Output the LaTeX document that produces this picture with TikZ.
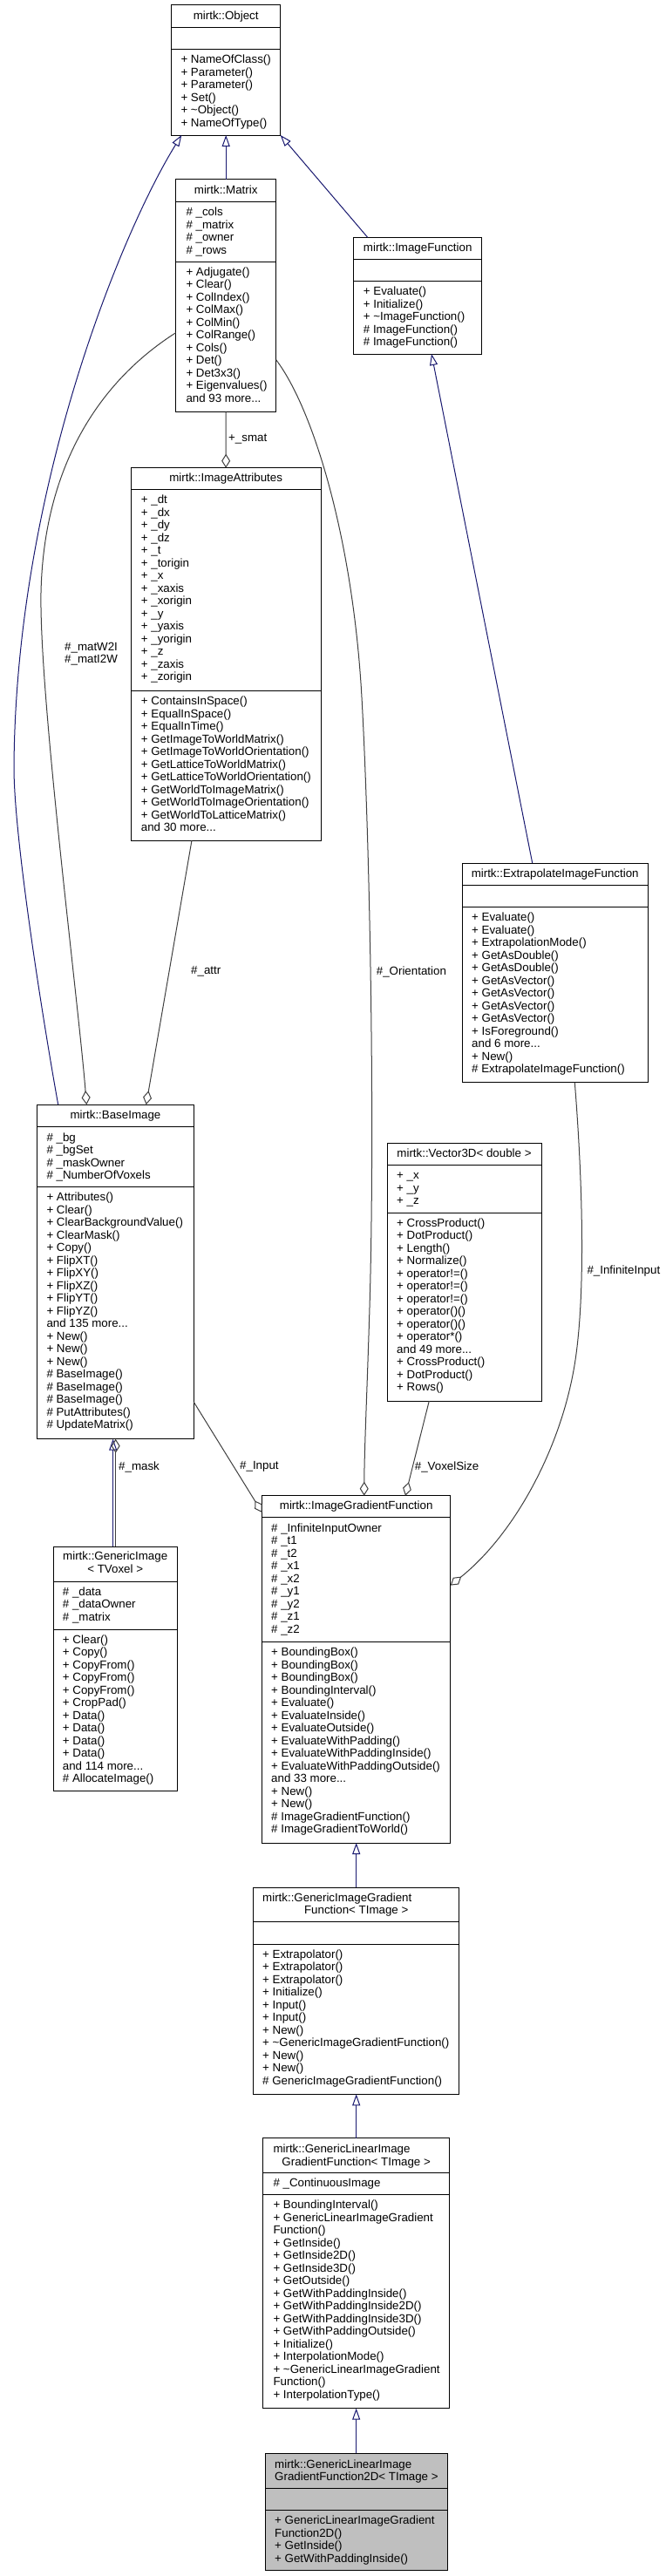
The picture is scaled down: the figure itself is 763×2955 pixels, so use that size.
\documentclass[tikz,border=0pt]{standalone}
\usepackage{fontspec}
\setmainfont{Liberation Sans}
\usetikzlibrary{arrows.meta,calc}
\definecolor{inhblue}{HTML}{191970}
\definecolor{assgray}{HTML}{404040}
\definecolor{selgray}{HTML}{BFBFBF}
\newcommand\fl{\rule{0pt}{10.5pt}}
\newcommand\classbox[6][white]{%
  \node[box, fill=#1, anchor=north west, minimum width={#5-#3}, minimum height={#6-#4}] (#2) at (#3,#4) {};}
\newcommand\csep[3]{\draw[sepline] (#1,#3) -- (#2,#3);}
\tikzset{
  box/.style={rectangle, draw=black, line width=1pt, inner sep=0pt, outer sep=0pt},
  sepline/.style={draw=black, line width=1pt},
  ttl/.style={inner sep=0pt, font=\fontsize{13.33}{14.5}\selectfont},
  mem/.style={inner sep=0pt, align=left, anchor=north west, font=\fontsize{13.33}{14.5}\selectfont},
  lbl/.style={inner sep=0pt, anchor=west, font=\fontsize{13.33}{14.5}\selectfont},
  inh/.style={draw=inhblue, line width=1pt, -{Triangle[open, length=13pt, width=9pt]}},
  agg/.style={draw=assgray, line width=1pt, -{Diamond[open, length=16pt, width=10pt]}},
}
\begin{document}
\begin{tikzpicture}[x=1pt, y=-1pt]
\fill[white] (0,0) rectangle (763,2955);
\useasboundingbox (0,0) rectangle (763,2955);

% ---------- mirtk::Object
\classbox{obj}{196.7}{5.7}{321.7}{155}
\csep{196.7}{321.7}{31.7}\csep{196.7}{321.7}{56.7}
\node[ttl, anchor=base] (obj-t) at (259.2,22.2) {mirtk::Object};
\node[mem] (obj-m) at (207.3,62.2) {\fl + NameOfClass()\\+ Parameter()\\+ Parameter()\\+ Set()\\+ \textasciitilde{}Object()\\+ NameOfType()};

% ---------- mirtk::Matrix
\classbox{mat}{201.7}{205.7}{316.7}{472.7}
\csep{201.7}{316.7}{231.7}\csep{201.7}{316.7}{300}
\node[ttl, anchor=base] (mat-t) at (259.2,222.2) {mirtk::Matrix};
\node[mem] (mat-a) at (213.3,237.2) {\fl \# \_cols\\\# \_matrix\\\# \_owner\\\# \_rows};
\node[mem] (mat-m) at (213.3,305.5) {\fl + Adjugate()\\+ Clear()\\+ ColIndex()\\+ ColMax()\\+ ColMin()\\+ ColRange()\\+ Cols()\\+ Det()\\+ Det3x3()\\+ Eigenvalues()\\and 93 more...};

% ---------- mirtk::ImageFunction
\classbox{imf}{405.7}{272.3}{552.7}{406}
\csep{405.7}{552.7}{297.3}\csep{405.7}{552.7}{322.7}
\node[ttl, anchor=base] (imf-t) at (479.2,288.3) {mirtk::ImageFunction};
\node[mem] (imf-m) at (416.7,328.2) {\fl + Evaluate()\\+ Initialize()\\+ \textasciitilde{}ImageFunction()\\\# ImageFunction()\\\# ImageFunction()};

% ---------- mirtk::ImageAttributes
\classbox{att}{150}{536.7}{368.3}{964.3}
\csep{150}{368.3}{561.7}\csep{150}{368.3}{792.7}
\node[ttl, anchor=base] (att-t) at (259.2,552.7) {mirtk::ImageAttributes};
\node[mem] (att-a) at (161.7,567.2) {\fl + \_dt\\+ \_dx\\+ \_dy\\+ \_dz\\+ \_t\\+ \_torigin\\+ \_x\\+ \_xaxis\\+ \_xorigin\\+ \_y\\+ \_yaxis\\+ \_yorigin\\+ \_z\\+ \_zaxis\\+ \_zorigin};
\node[mem] (att-m) at (161.7,798.2) {\fl + ContainsInSpace()\\+ EqualInSpace()\\+ EqualInTime()\\+ GetImageToWorldMatrix()\\+ GetImageToWorldOrientation()\\+ GetLatticeToWorldMatrix()\\+ GetLatticeToWorldOrientation()\\+ GetWorldToImageMatrix()\\+ GetWorldToImageOrientation()\\+ GetWorldToLatticeMatrix()\\and 30 more...};

% ---------- mirtk::ExtrapolateImageFunction
\classbox{eif}{530}{990}{743.3}{1241.7}
\csep{530}{743.3}{1015}\csep{530}{743.3}{1040.7}
\node[ttl, anchor=base] (eif-t) at (636.7,1006) {mirtk::ExtrapolateImageFunction};
\node[mem] (eif-m) at (541,1046.2) {\fl + Evaluate()\\+ Evaluate()\\+ ExtrapolationMode()\\+ GetAsDouble()\\+ GetAsDouble()\\+ GetAsVector()\\+ GetAsVector()\\+ GetAsVector()\\+ GetAsVector()\\+ IsForeground()\\and 6 more...\\+ New()\\\# ExtrapolateImageFunction()};

% ---------- mirtk::BaseImage
\classbox{bim}{42.7}{1267.1}{222.3}{1650.7}
\csep{42.7}{222.3}{1292.9}\csep{42.7}{222.3}{1361.4}
\node[ttl, anchor=base] (bim-t) at (132.5,1283.5) {mirtk::BaseImage};
\node[mem] (bim-a) at (53.3,1298.4) {\fl \# \_bg\\\# \_bgSet\\\# \_maskOwner\\\# \_NumberOfVoxels};
\node[mem] (bim-m) at (53.3,1366.9) {\fl + Attributes()\\+ Clear()\\+ ClearBackgroundValue()\\+ ClearMask()\\+ Copy()\\+ FlipXT()\\+ FlipXY()\\+ FlipXZ()\\+ FlipYT()\\+ FlipYZ()\\and 135 more...\\+ New()\\+ New()\\+ New()\\\# BaseImage()\\\# BaseImage()\\\# BaseImage()\\\# PutAttributes()\\\# UpdateMatrix()};

% ---------- mirtk::Vector3D< double >
\classbox{vec}{444}{1311.7}{621}{1607}
\csep{444}{621}{1336.7}\csep{444}{621}{1391}
\node[ttl, anchor=base] (vec-t) at (532.5,1327.7) {mirtk::Vector3D< double >};
\node[mem] (vec-a) at (455,1342.2) {\fl + \_x\\+ \_y\\+ \_z};
\node[mem] (vec-m) at (455,1396.5) {\fl + CrossProduct()\\+ DotProduct()\\+ Length()\\+ Normalize()\\+ operator!=()\\+ operator!=()\\+ operator!=()\\+ operator()()\\+ operator()()\\+ operator*()\\and 49 more...\\+ CrossProduct()\\+ DotProduct()\\+ Rows()};

% ---------- mirtk::ImageGradientFunction
\classbox{igf}{300.7}{1715.7}{516.7}{2114}
\csep{300.7}{516.7}{1740.9}\csep{300.7}{516.7}{1883.3}
\node[ttl, anchor=base] (igf-t) at (408.7,1731.8) {mirtk::ImageGradientFunction};
\node[mem] (igf-a) at (311,1746.4) {\fl \# \_InfiniteInputOwner\\\# \_t1\\\# \_t2\\\# \_x1\\\# \_x2\\\# \_y1\\\# \_y2\\\# \_z1\\\# \_z2};
\node[mem] (igf-m) at (311,1888.8) {\fl + BoundingBox()\\+ BoundingBox()\\+ BoundingBox()\\+ BoundingInterval()\\+ Evaluate()\\+ EvaluateInside()\\+ EvaluateOutside()\\+ EvaluateWithPadding()\\+ EvaluateWithPaddingInside()\\+ EvaluateWithPaddingOutside()\\and 33 more...\\+ New()\\+ New()\\\# ImageGradientFunction()\\\# ImageGradientToWorld()};

% ---------- mirtk::GenericImage< TVoxel >
\classbox{gim}{61}{1774}{203.3}{2054.5}
\csep{61}{203.3}{1814}\csep{61}{203.3}{1869}
\node[ttl, anchor=base] (gim-t1) at (132.2,1789.7) {mirtk::GenericImage};
\node[ttl, anchor=base] (gim-t2) at (132.2,1804.7) {< TVoxel >};
\node[mem] (gim-a) at (71.7,1819.5) {\fl \# \_data\\\# \_dataOwner\\\# \_matrix};
\node[mem] (gim-m) at (71.7,1874.5) {\fl + Clear()\\+ Copy()\\+ CopyFrom()\\+ CopyFrom()\\+ CopyFrom()\\+ CropPad()\\+ Data()\\+ Data()\\+ Data()\\+ Data()\\and 114 more...\\\# AllocateImage()};

% ---------- mirtk::GenericImageGradientFunction< TImage >
\classbox{gig}{290.7}{2165}{526.7}{2402.3}
\csep{290.7}{526.7}{2204.3}\csep{290.7}{526.7}{2230}
\node[ttl, anchor=base west] (gig-t1) at (301,2181) {mirtk::GenericImageGradient};
\node[ttl, anchor=base] (gig-t2) at (408.7,2195.5) {Function< TImage >};
\node[mem] (gig-m) at (301,2235.5) {\fl + Extrapolator()\\+ Extrapolator()\\+ Extrapolator()\\+ Initialize()\\+ Input()\\+ Input()\\+ New()\\+ \textasciitilde{}GenericImageGradientFunction()\\+ New()\\+ New()\\\# GenericImageGradientFunction()};

% ---------- mirtk::GenericLinearImageGradientFunction< TImage >
\classbox{gli}{301.7}{2452.7}{515.7}{2762.7}
\csep{301.7}{515.7}{2492.7}\csep{301.7}{515.7}{2517.7}
\node[ttl, anchor=base west] (gli-t1) at (313.3,2469.5) {mirtk::GenericLinearImage};
\node[ttl, anchor=base] (gli-t2) at (408.7,2484) {GradientFunction< TImage >};
\node[mem] (gli-a) at (313.3,2498.2) {\fl \# \_ContinuousImage};
\node[mem] (gli-m) at (313.3,2523.2) {\fl + BoundingInterval()\\+ GenericLinearImageGradient\\Function()\\+ GetInside()\\+ GetInside2D()\\+ GetInside3D()\\+ GetOutside()\\+ GetWithPaddingInside()\\+ GetWithPaddingInside2D()\\+ GetWithPaddingInside3D()\\+ GetWithPaddingOutside()\\+ Initialize()\\+ InterpolationMode()\\+ \textasciitilde{}GenericLinearImageGradient\\Function()\\+ InterpolationType()};

% ---------- mirtk::GenericLinearImageGradientFunction2D< TImage >
\classbox[selgray]{gl2}{304}{2814.3}{513.3}{2948.3}
\csep{304}{513.3}{2854}\csep{304}{513.3}{2879.3}
\node[ttl, anchor=base west] (gl2-t1) at (315,2831) {mirtk::GenericLinearImage};
\node[ttl, anchor=base west] (gl2-t2) at (315,2845.5) {GradientFunction2D< TImage >};
\node[mem] (gl2-m) at (315,2884.8) {\fl + GenericLinearImageGradient\\Function2D()\\+ GetInside()\\+ GetWithPaddingInside()};

% ---------- inheritance
\draw[inh] (mat.north) -- (mat.north |- obj.south);
\draw[inh] ([xshift=24pt]bim.north west) .. controls (48.7,1167) and (15.9,960) .. (16,880) .. controls (18,560) and (140,265) .. ([xshift=11.6pt]obj.south west);
\draw[inh] ([xshift=16pt]imf.north west) -- (obj.south east);
\draw[inh] ([xshift=80.7pt]eif.north west) -- ([xshift=89.3pt]imf.south west);
\draw[inh] ([xshift=-2.5pt]gim.north) -- ([xshift=-2.5pt]gim.north |- bim.south);
\draw[inh] (gig.north) -- (gig.north |- igf.south);
\draw[inh] (gli.north) -- (gli.north |- gig.south);
\draw[inh] (gl2.north) -- (gl2.north |- gli.south);

% ---------- associations
\draw[agg] (mat.south) -- (att.north);
\node[lbl] (l-smat) at (262,504) {+\_smat};
\draw[agg] ([yshift=-42.5pt]mat.west) .. controls (110,440) and (50,540) .. (47,680) .. controls (45,800) and (90,1150) .. ([xshift=56.6pt]bim.north west);
\node[lbl, align=center, font=\fontsize{13.33}{13.5}\selectfont] (l-mat) at (74,750) {\#\_matW2I\\\#\_matI2W};
\draw[agg] ([xshift=-39.2pt]att.south) -- ([xshift=125pt]bim.north west);
\node[lbl] (l-attr) at (219,1114.3) {\#\_attr};
\draw[agg] ([yshift=-73.5pt]mat.east) .. controls (360,470) and (405,620) .. (415,800) .. controls (425,980) and (430,1300) .. (424,1500) .. controls (421,1600) and (418,1660) .. ([xshift=117pt]igf.north west);
\node[lbl] (l-ori) at (431.7,1115) {\#\_Orientation};
\draw[agg] ([xshift=48.3pt]vec.south west) -- ([xshift=164.3pt]igf.north west);
\node[lbl] (l-vox) at (475.7,1682.8) {\#\_VoxelSize};
\draw[agg] ([yshift=-149.4pt]bim.east) -- ([yshift=-19.3pt]igf.north west);
\node[lbl] (l-inp) at (275,1682.6) {\#\_Input};
\draw[agg] ([xshift=129.3pt]eif.south west) .. controls (668,1350) and (672,1480) .. (660,1560) .. controls (645,1660) and (590,1760) .. ([yshift=-102.9pt]igf.north east);
\node[lbl] (l-inf) at (673.3,1458.3) {\#\_InfiniteInput};
\draw[agg] ([xshift=0.5pt]gim.north) -- ([xshift=0.5pt]gim.north |- bim.south);
\node[lbl] (l-mask) at (136,1682.7) {\#\_mask};
\end{tikzpicture}
\end{document}
